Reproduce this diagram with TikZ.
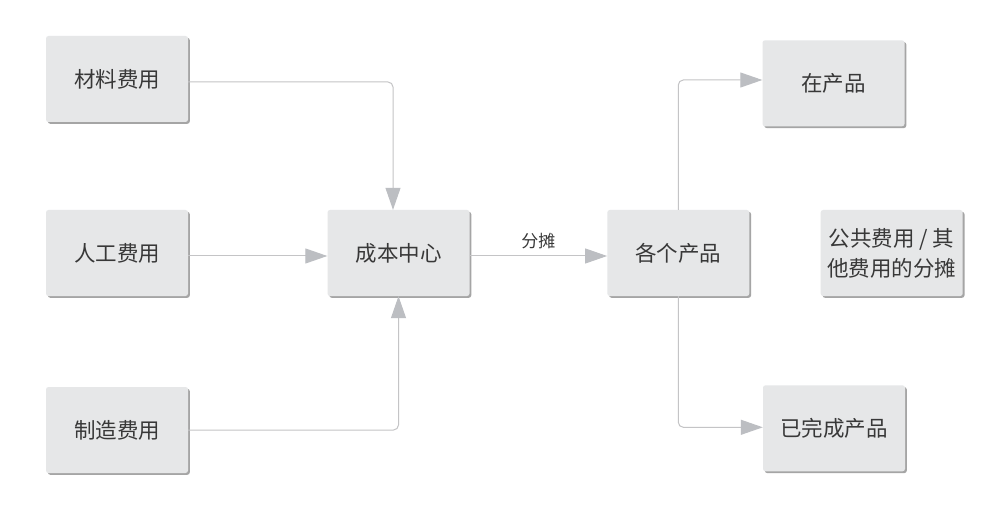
\documentclass[tikz,border=0pt]{standalone}
\usepackage{fontspec}
\setmainfont{Noto Sans CJK SC}
\usetikzlibrary{arrows.meta}
\definecolor{boxfill}{HTML}{E6E7E8}
\definecolor{boxshadow}{HTML}{A5A5A5}
\definecolor{linecol}{HTML}{C4C4C6}
\definecolor{tipcol}{HTML}{BCBEC2}
\definecolor{txt}{HTML}{383838}
\tikzset{
  box/.style={rectangle, rounded corners=2.5pt, fill=boxfill, minimum width=142pt, minimum height=86pt,
    inner sep=0pt, text=txt, font=\fontsize{21.5pt}{30pt}\selectfont, align=center,
    preaction={fill=boxshadow, transform canvas={xshift=1.8pt, yshift=-1.8pt}}},
  conn/.style={draw=linecol, line width=1pt, rounded corners=5pt,
    -{Triangle[length=22pt, width=15pt, fill=tipcol, color=tipcol]}},
  lbl/.style={text=txt, font=\fontsize{17pt}{18pt}\selectfont}
}
\begin{document}
\begin{tikzpicture}[x=1pt, y=-1pt]
\useasboundingbox (0,0) rectangle (999,505);
\fill[white] (0,0) rectangle (999,505);
\node[box] (mat) at (117,79) {材料费用};
\node[box] (ren) at (117,253) {人工费用};
\node[box] (zz) at (117,430) {制造费用};
\node[box] (cost) at (398.5,253) {成本中心};
\node[box] (each) at (678.3,253) {各个产品};
\node[box] (zai) at (833.5,83.3) {在产品};
\node[box] (ywc) at (834,428.3) {已完成产品};
\node[box] (gg) at (891.7,253) {公共费用 / 其\\他费用的分摊};
\draw[conn] ([yshift=-3pt]mat.east) -| ([xshift=-5.5pt]cost.north);
\draw[conn] ([yshift=-3pt]ren.east) -- ([yshift=-3pt]cost.west);
\draw[conn] (zz.east) -| (cost.south);
\draw[conn] ([yshift=-3pt]cost.east) -- node[lbl, above=3pt] (ft) {分摊} ([yshift=-3pt]each.west);
\draw[conn] (each.north) |- ([yshift=3.3pt]zai.west);
\draw[conn] (each.south) |- ([yshift=1pt]ywc.west);
\end{tikzpicture}
\end{document}
